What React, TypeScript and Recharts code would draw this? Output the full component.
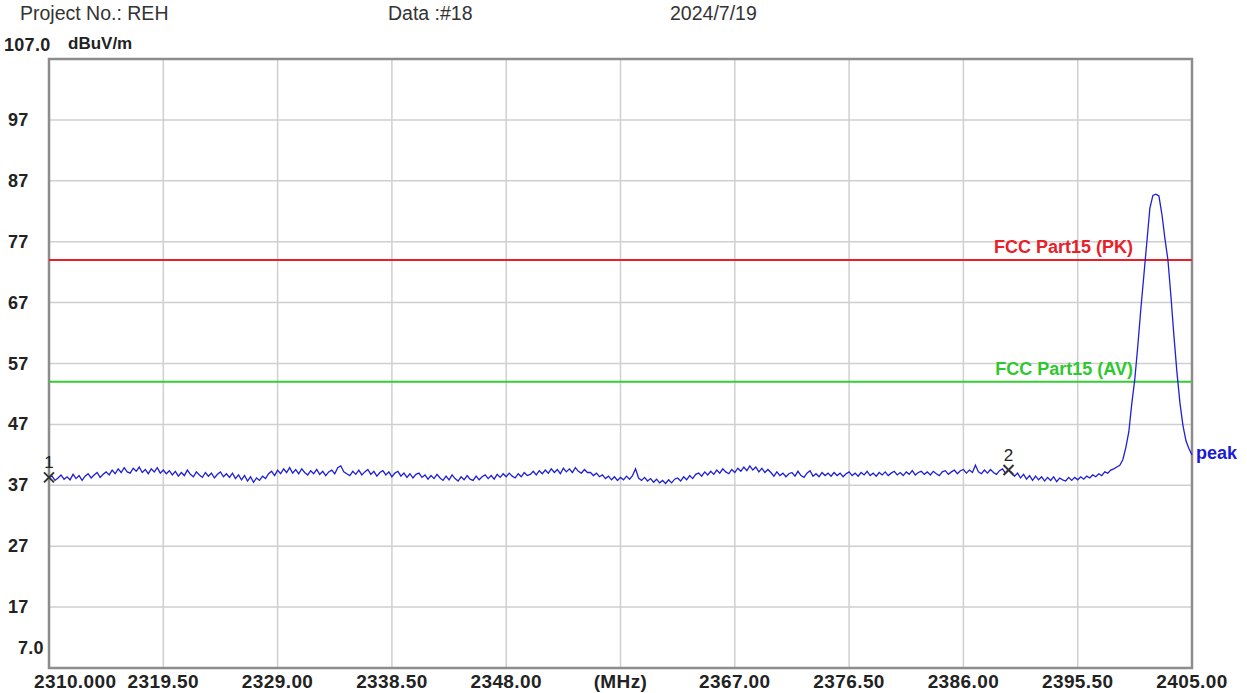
import { ComposedChart, Line, XAxis, YAxis, CartesianGrid, ReferenceLine, ReferenceDot, ReferenceArea } from "recharts"

// sweep floor, 0.25 MHz steps starting at 2310 MHz (dBuV/m)
const FLOOR_START = 2310
const FLOOR_STEP = 0.25
const floorLevels = [
  38.3, 38.5, 37.8, 38.2, 38.7, 38.0, 38.4, 37.9, 38.8, 38.1, 38.6, 37.8, 38.5, 38.9, 38.2, 38.7, 39.1, 38.3, 38.8, 39.2,
  38.7, 39.5, 38.9, 39.7, 39.1, 39.9, 39.2, 39.0, 39.8, 39.3, 40.0, 39.1, 39.6, 38.9, 39.7, 39.2, 39.9, 39.0, 39.5, 38.9,
  39.4, 38.7, 39.3, 38.5, 39.1, 38.6, 39.5, 38.8, 38.4, 39.2, 38.7, 38.3, 39.1, 38.5, 39.0, 38.2, 38.8, 39.2, 38.4, 38.9,
  38.3, 39.0, 38.1, 38.7, 37.9, 38.6, 37.7, 38.4, 37.5, 38.2, 37.8, 38.5, 38.1, 38.9, 39.3, 38.6, 39.5, 38.9, 39.7, 39.1,
  39.9, 39.0, 39.6, 38.9, 39.7, 39.1, 38.7, 39.4, 38.9, 39.6, 38.8, 39.3, 38.6, 39.2, 39.5, 38.9, 39.9, 40.2, 39.2, 38.9,
  38.6, 39.3, 38.8, 39.5, 38.7, 39.2, 39.6, 38.8, 39.3, 38.5, 39.1, 39.4, 38.7, 39.2, 38.4, 39.0, 39.3, 38.5, 39.0, 38.3,
  38.9, 38.2, 38.8, 39.0, 38.3, 38.7, 38.0, 38.6, 38.1, 38.8, 38.2, 37.8, 38.5, 37.9, 38.7, 38.1, 37.7, 38.4, 37.9, 38.6,
  38.0, 37.8, 38.5, 37.9, 38.4, 38.7, 38.1, 38.6, 38.0, 38.8, 38.3, 38.9, 38.4, 39.0, 38.5, 38.2, 38.9, 38.4, 39.1, 38.6,
  38.8, 39.3, 38.7, 39.4, 38.9, 39.5, 39.0, 39.7, 39.1, 39.6, 38.9, 39.8, 39.2, 39.7, 39.1, 39.9, 39.3, 39.0, 39.6, 39.1,
  39.1, 38.6, 39.0, 38.4, 38.7, 38.1, 38.5, 37.9, 38.4, 37.8, 38.3, 37.9, 38.5, 38.0, 38.6, 39.7, 38.2, 37.8, 38.3, 37.7,
  38.1, 37.5, 38.0, 37.4, 37.8, 37.3, 37.9, 37.4, 38.0, 38.2, 37.7, 38.4, 37.9, 38.6, 38.1, 38.8, 39.0, 38.5, 39.2, 38.7,
  39.3, 38.8, 39.5, 39.0, 39.7, 39.2, 38.9, 39.6, 39.1, 39.8, 39.3, 40.0, 39.4, 40.2, 39.5, 40.0, 39.2, 39.8, 39.1, 39.6,
  39.1, 38.5, 39.2, 38.6, 39.0, 38.4, 38.9, 39.1, 38.5, 39.3, 38.6, 38.3, 39.0, 39.4, 38.5, 38.9, 38.4, 39.1, 38.6, 39.0,
  38.5, 39.1, 38.6, 39.0, 38.4, 38.9, 39.2, 38.6, 39.0, 38.5, 39.1, 38.7, 39.3, 38.6, 39.0, 38.5, 39.1, 38.7, 39.2, 38.6,
  39.0, 39.3, 38.7, 39.1, 38.6, 39.2, 38.8, 39.4, 38.7, 39.1, 39.3, 38.8, 39.2, 38.7, 39.3, 38.9, 38.6, 39.2, 39.4, 38.8,
  39.2, 39.5, 38.9, 39.4, 39.6, 39.0, 39.5, 39.1, 40.3, 39.2, 38.9, 39.5, 39.0, 39.6, 39.1, 38.8, 39.4, 39.7, 39.0, 39.5,
  39.1, 38.5, 39.0, 38.2, 38.8, 38.0, 38.6, 37.8, 38.5, 37.9, 38.4, 37.7, 38.3, 37.8, 38.4, 37.6, 38.2, 37.9, 37.7, 38.3,
  37.8, 38.3, 37.9, 38.4, 38.0, 38.5, 38.2, 38.7, 38.4, 38.9, 38.6, 39.2, 39.0, 39.5, 39.7,
]

// carrier at the band edge
const peakFreqs = [
  2398.75, 2399.0, 2399.25, 2399.5, 2399.75, 2400.0, 2400.25, 2400.5, 2400.75, 2401.0, 2401.25, 2401.5, 2401.75,
  2402.0, 2402.25, 2402.5, 2402.75, 2403.0, 2403.25, 2403.5, 2403.75, 2404.0, 2404.25, 2404.5, 2404.75, 2405.0,
]
const peakLevels = [
  40.0, 40.3, 41.2, 43.2, 45.8, 50.5, 54.5, 60.0, 66.0, 71.5, 77.0, 82.5, 84.6,
  84.8, 84.5, 81.5, 77.5, 74.0, 68.0, 61.5, 55.5, 50.5, 46.8, 44.3, 43.0, 42.0,
]

const limitPK = 74
const limitAV = 54

const xTicks = [2310, 2319.5, 2329, 2338.5, 2348, 2357.5, 2367, 2376.5, 2386, 2395.5, 2405]
const xTickLabels = ["2310.000", "2319.50", "2329.00", "2338.50", "2348.00", "(MHz)", "2367.00", "2376.50", "2386.00", "2395.50", "2405.00"]
const yTicks = [7, 17, 27, 37, 47, 57, 67, 77, 87, 97, 107]
const yTickLabels = ["7.0", "17", "27", "37", "47", "57", "67", "77", "87", "97", "107.0"]

const markers = [
  { id: "1", freq: 2310, level: 38.3 },
  { id: "2", freq: 2389.75, level: 39.5 },
]

const data = [
  ...floorLevels.map((level, i) => ({ freq: FLOOR_START + i * FLOOR_STEP, level })),
  ...peakFreqs.map((freq, i) => ({ freq, level: peakLevels[i] })),
]

const FONT = "'Liberation Sans', Arial, sans-serif"
const TEXT = "#222"

const XTick = ({ x, y, payload, index }: any) => {
  const label = xTickLabels[xTicks.indexOf(payload.value)] ?? ""
  const first = index === 0
  return (
    <text x={first ? x - 15 : x} y={y + 12} textAnchor={first ? "start" : "middle"} fontFamily={FONT} fontSize={19} fontWeight="bold" letterSpacing={0.4} fill={TEXT}>
      {label}
    </text>
  )
}

const YTick = ({ y, payload }: any) => {
  const label = yTickLabels[yTicks.indexOf(payload.value)] ?? ""
  let dy = 6
  let x = 8
  if (payload.value === 107) { dy = -8; x = 4 }
  if (payload.value === 7) { dy = -14; x = 18 }
  return (
    <text x={x} y={y + dy} textAnchor="start" fontFamily={FONT} fontSize={18} fontWeight="bold" letterSpacing={0.3} fill={TEXT}>
      {label}
    </text>
  )
}

const MarkerShape = (id: string) => (props: any) => {
  const { cx, cy } = props
  const s = 5
  return (
    <g>
      <line x1={cx - s} y1={cy - s} x2={cx + s} y2={cy + s} stroke="#333" strokeWidth={2} />
      <line x1={cx - s} y1={cy + s} x2={cx + s} y2={cy - s} stroke="#333" strokeWidth={2} />
      <text x={cx} y={cy - 9} textAnchor="middle" fontFamily={FONT} fontSize={17} fill="#222">{id}</text>
    </g>
  )
}

const PeakLabel = (props: any) => {
  const { cx, cy } = props
  return (
    <text x={cx + 4} y={cy + 4} fontFamily={FONT} fontSize={18} fontWeight="bold" fill="#1a1ad8">peak</text>
  )
}

const limitLabel = (text: string, color: string) => (props: any) => {
  const { viewBox } = props
  return (
    <text x={viewBox.x + viewBox.width - 59} y={viewBox.y - 7} textAnchor="end" fontFamily={FONT} fontSize={18} fontWeight="bold" fill={color}>
      {text}
    </text>
  )
}

export default function App() {
  return (
    <div style={{ position: "absolute", left: 0, top: 0, width: 1247, height: 693, background: "#fff" }}>
      <div style={{ position: "absolute", left: 20, top: 2, fontFamily: FONT, fontSize: 19.5, color: "#333" }}>Project No.: REH</div>
      <div style={{ position: "absolute", left: 388, top: 2, fontFamily: FONT, fontSize: 19.5, color: "#333" }}>Data :#18</div>
      <div style={{ position: "absolute", left: 670, top: 2, fontFamily: FONT, fontSize: 19.5, color: "#333" }}>2024/7/19</div>
      <div style={{ position: "absolute", left: 68, top: 34, fontFamily: FONT, fontSize: 17, fontWeight: "bold", color: TEXT }}>dBuV/m</div>
      <ComposedChart width={1247} height={693} data={data} margin={{ top: 59, right: 55, bottom: 0, left: 0 }}>
        <CartesianGrid stroke="#cfcfcf" strokeWidth={1.5} horizontalValues={yTicks} verticalValues={xTicks} />
        <XAxis
          dataKey="freq"
          type="number"
          domain={[2310, 2405]}
          ticks={xTicks}
          tick={<XTick />}
          tickLine={false}
          axisLine={false}
          height={25}
          interval={0}
        />
        <YAxis
          type="number"
          domain={[7, 107]}
          ticks={yTicks}
          tick={<YTick />}
          tickLine={false}
          axisLine={false}
          width={49}
          interval={0}
          allowDataOverflow
        />
        <ReferenceArea x1={2310} x2={2405} y1={7} y2={107} fill="none" stroke="#8c8c8c" strokeWidth={2.5} />
        <ReferenceLine y={limitPK} stroke="#e8202a" strokeWidth={2} label={limitLabel("FCC Part15 (PK)", "#e8202a")} />
        <ReferenceLine y={limitAV} stroke="#33cc33" strokeWidth={2} label={limitLabel("FCC Part15 (AV)", "#2ec82e")} />
        <Line
          type="linear"
          dataKey="level"
          stroke="#1f1fd6"
          strokeWidth={1.3}
          dot={false}
          isAnimationActive={false}
        />
        {markers.map((m) => (
          <ReferenceDot key={m.id} x={m.freq} y={m.level} r={5} shape={MarkerShape(m.id)} />
        ))}
        <ReferenceDot x={peakFreqs[peakFreqs.length - 1]} y={peakLevels[peakLevels.length - 1]} r={1} shape={PeakLabel} />
      </ComposedChart>
    </div>
  )
}
